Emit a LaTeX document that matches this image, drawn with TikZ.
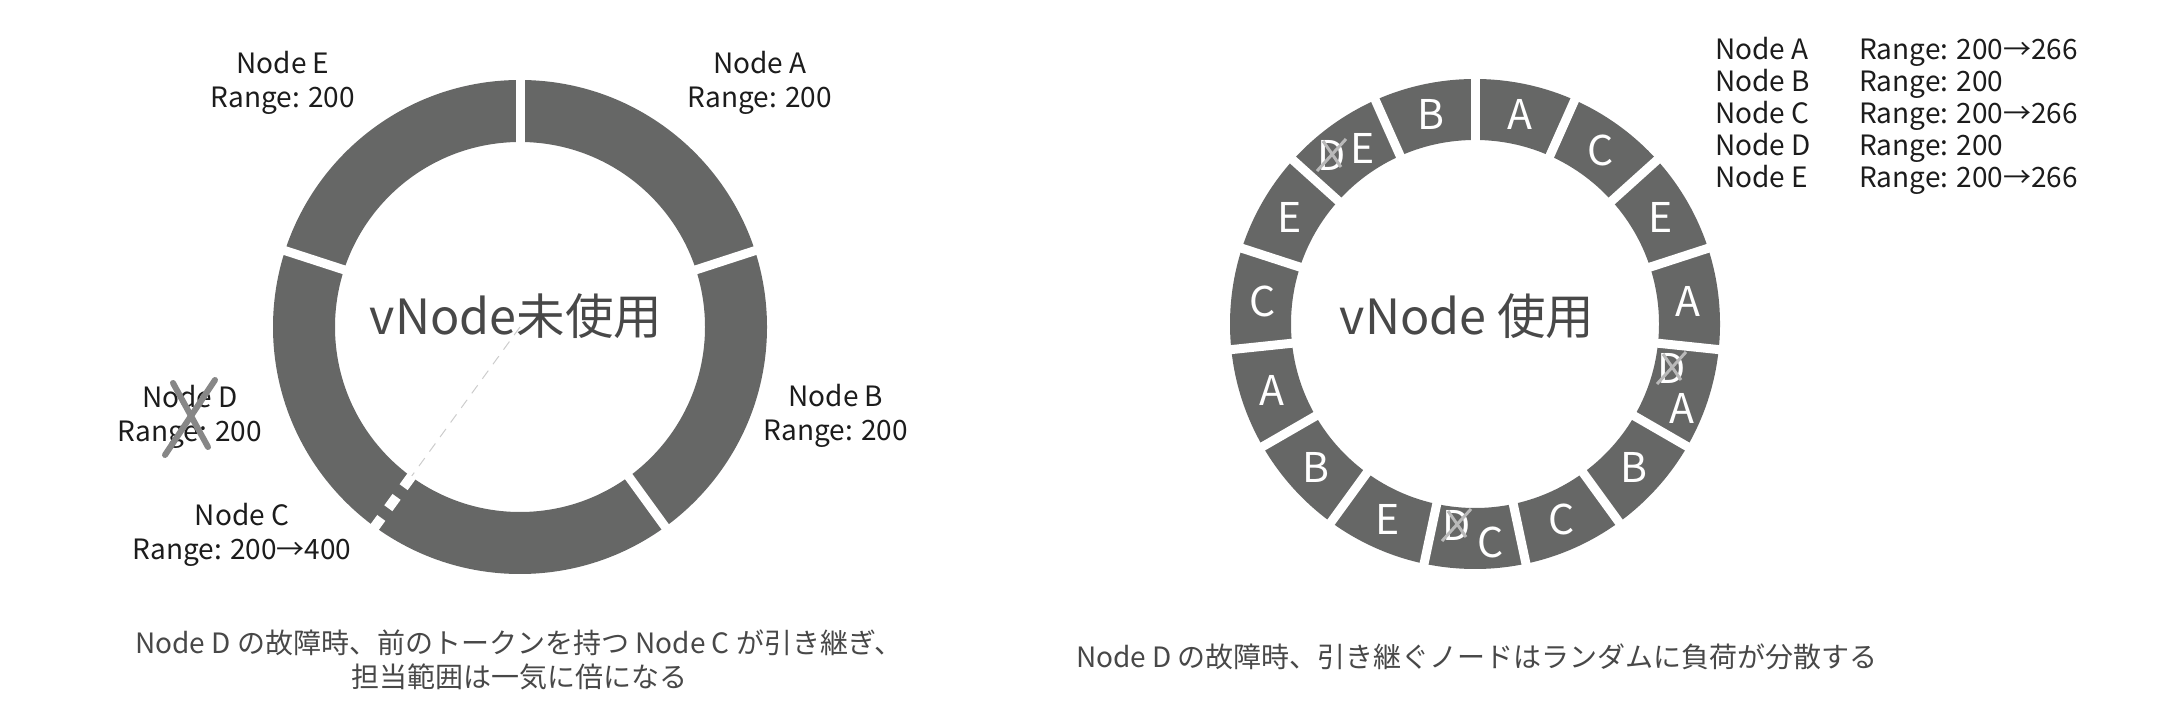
\documentclass[tikz,border=0pt]{standalone}
\usepackage{fontspec}
\setmainfont{Noto Sans CJK JP}
\usepackage{tikz}
\usetikzlibrary{positioning}
\definecolor{ringgray}{RGB}{102,103,102}
\definecolor{txtdark}{RGB}{28,28,28}
\definecolor{txtmid}{RGB}{72,72,72}
\definecolor{crossdark}{RGB}{135,135,135}
\definecolor{crosslight}{RGB}{185,185,185}
\tikzstyle{rangelabel} = [align=center, text=txtdark, inner sep=0pt, font=\fontsize{28}{33.5}\selectfont]
\tikzstyle{legend} = [anchor=base west, text=txtdark, inner sep=0pt, font=\fontsize{28}{33}\selectfont]
\tikzstyle{title} = [anchor=base, text=txtmid, inner sep=0pt, font=\fontsize{48.5}{52}\selectfont]
\tikzstyle{caption} = [align=center, text=txtmid, inner sep=0pt, font=\fontsize{28}{34}\selectfont]
\tikzstyle{seglabel} = [text=white, inner sep=0pt, font=\fontsize{41}{45}\selectfont]
\tikzstyle{gap} = [white, line width=9pt]
\tikzstyle{crossR} = [crosslight, line width=3pt]
\newcommand{\strikeD}[1]{%
  \draw[crossR] (#1.center) ++(-15,-16) -- ++(29,32);
  \draw[crossR] (#1.center) ++(-9,14) -- ++(18,-26);}

\begin{document}
\begin{tikzpicture}[x=1pt, y=1pt]
\useasboundingbox (0,0) rectangle (2160,720);
\coordinate (ringL) at (520,393);
\coordinate (ringR) at (1475,396);

% Ring without vNodes
\fill[ringgray, even odd rule] (ringL) circle (247) (ringL) circle (185);
\foreach \a in {90,18,-54,162}
  \draw[gap] (ringL) ++(\a:180) -- ++(\a:72);
\draw[white, line width=10pt, dash pattern=on 14pt off 12pt] (ringL) ++(-126:184) -- ++(-126:66);
\draw[black!20, line width=1pt, dash pattern=on 10pt off 8pt] (ringL) -- ++(-126:184);

\node[title] (titleL) at (516,385) {vNode未使用};

\node[rangelabel] (lblE) at (283,637) {Node E\\Range: 200};
\node[rangelabel] (lblA) at (760,637) {Node A\\Range: 200};
\node[rangelabel] (lblB) at (836,304) {Node B\\Range: 200};
\node[rangelabel] (lblD) at (190,303) {Node D\\Range: 200};
\node[rangelabel] (lblC) at (242,185) {Node C\\Range: 200→400};
\draw[crossdark, line width=6pt, line cap=round] (lblD.center) ++(-25,-38) -- ++(50,75);
\draw[crossdark, line width=6pt, line cap=round] (lblD.center) ++(-17,34) -- ++(35,-64);

\node[caption] (capL) at (519,60) {Node D の故障時、前のトークンを持つ Node C が引き継ぎ、\\担当範囲は一気に倍になる};

% Ring with vNodes
\fill[ringgray, even odd rule] (ringR) circle (245) (ringR) circle (184);
\foreach \i in {0,...,14}
  \draw[gap] (ringR) ++(90-24*\i:180) -- ++(90-24*\i:70);

\foreach \a/\lab/\nm in {78/A/a1, 54/C/c1, 30/E/e1, 6/A/a2, -42/B/b2, -66/C/c2,
    -114/E/e2, -138/B/b3, -162/A/a3, 174/C/c3, 150/E/e3, 102/B/b1}
  \node[seglabel] (v\nm) at ([shift={(\a:214)}]ringR) {\lab};

% failed D and its successors
\node[seglabel] (vd1) at (1332,565) {D};
\node[seglabel] (ve4) at (1363,572) {E};
\node[seglabel] (vd2) at (1672,352) {D};
\node[seglabel] (va4) at (1682,312) {A};
\node[seglabel] (vd3) at (1457,195) {D};
\node[seglabel] (vc4) at (1491,178) {C};
\strikeD{vd1}
\strikeD{vd2}
\strikeD{vd3}

\node[title] (titleR) at (1467,385) {vNode 使用};

\foreach \n/\r [count=\i] in {A/200→266, B/200, C/200→266, D/200, E/200→266} {
  \node[legend] (legN\n) at (1715,692-32*\i) {Node \n};
  \node[legend] (legR\n) at (1859,692-32*\i) {Range: \r};
}

\node[caption] (capR) at (1477,63) {Node D の故障時、引き継ぐノードはランダムに負荷が分散する};
\end{tikzpicture}
\end{document}
